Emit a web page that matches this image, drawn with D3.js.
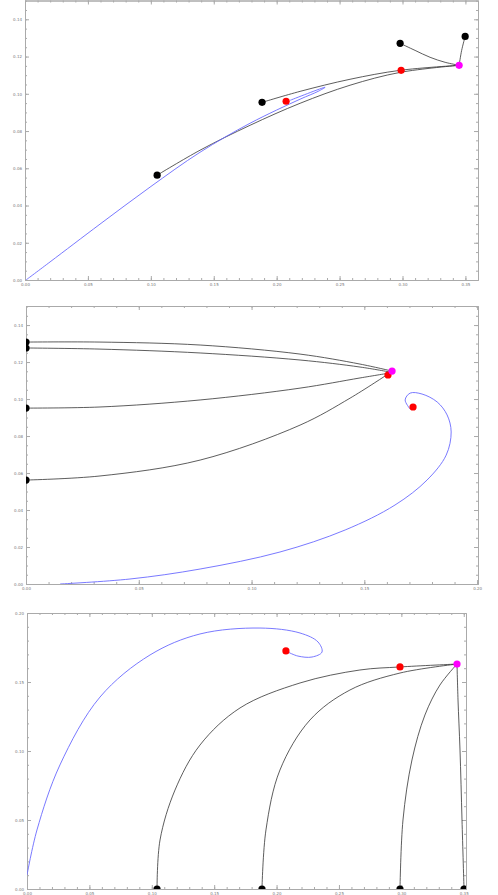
<!DOCTYPE html>
<html>
<head>
<meta charset="utf-8">
<script src="https://cdn.jsdelivr.net/npm/d3@7.9.0/dist/d3.min.js"></script>
<style>
  body { margin: 0; background: #fff; }
  svg { display: block; }
</style>
</head>
<body>
<svg id="chart"></svg>
<script>
// ---- panel 1 (x vs y) ----
const p1Black = [
  [[0.105, 0.0563], [0.1391, 0.0697], [0.1789, 0.0831], [0.2186, 0.0949], [0.2583, 0.1046], [0.2981, 0.1115], [0.345, 0.1153]],
  [[0.1884, 0.0954], [0.2186, 0.1013], [0.2583, 0.1078], [0.2981, 0.1126], [0.345, 0.1153]],
  [[0.2981, 0.1271], [0.3100, 0.1233], [0.3219, 0.1196], [0.3339, 0.1169], [0.345, 0.1153]],
  [[0.3498, 0.1308], [0.3470, 0.1233], [0.345, 0.1153]]
];
const p1Blue = [[0.2107, 0.0965], [0.2385, 0.1035], [0.2329, 0.1013], [0.2186, 0.0971], [0.1789, 0.0842], [0.1391, 0.0686],
  [0.0994, 0.0499], [0.0596, 0.0300], [0.0199, 0.0097], [0.0008, 0]];
const p1Start = [[0.105, 0.0563], [0.1884, 0.0954], [0.2981, 0.1271], [0.3498, 0.1308]];
const p1Red = [[0.2075, 0.096], [0.2989, 0.1126]];
const p1Fixed = [[0.345, 0.1153]];

// ---- panel 2 (z vs y) ----
const p2Black = [
  [[0, 0.1308], [0.0328, 0.1308], [0.0772, 0.1292], [0.1215, 0.1243], [0.1481, 0.1189], [0.1623, 0.1151]],
  [[0, 0.1276], [0.0328, 0.1270], [0.0772, 0.1249], [0.1215, 0.1211], [0.1481, 0.1173], [0.1614, 0.1146]],
  [[0, 0.0951], [0.0328, 0.0957], [0.0772, 0.0995], [0.1215, 0.1059], [0.1481, 0.1114], [0.1614, 0.1141]],
  [[0, 0.0562], [0.0328, 0.0584], [0.0772, 0.0670], [0.1215, 0.0859], [0.1437, 0.1005], [0.1605, 0.1135]]
];
const p2Blue = [[0.1703, 0.0946], [0.1681, 0.0995], [0.1703, 0.1032], [0.1756, 0.1027], [0.1823, 0.0984], [0.1867, 0.0914],
  [0.1885, 0.0822], [0.1863, 0.0697], [0.1778, 0.0562], [0.1636, 0.0427], [0.1415, 0.0292], [0.1126, 0.0173],
  [0.0772, 0.0081], [0.0461, 0.0027], [0.0151, 0]];
const p2Start = [[0, 0.1308], [0, 0.1276], [0, 0.0951], [0, 0.0562]];
const p2Red = [[0.1605, 0.1130], [0.1716, 0.0957]];
const p2Fixed = [[0.1623, 0.1151]];

// ---- panel 3 (x vs z) ----
const p3Black = [
  [[0.1042, 0], [0.1066, 0.0355], [0.1186, 0.0717], [0.1386, 0.1043], [0.1707, 0.1312], [0.2188, 0.1493], [0.2668, 0.1587], [0.2989, 0.1609], [0.3446, 0.1630]],
  [[0.1883, 0], [0.1915, 0.0428], [0.2027, 0.0862], [0.2268, 0.1225], [0.2588, 0.1442], [0.2989, 0.1565], [0.3446, 0.1630]],
  [[0.2989, 0], [0.3013, 0.05], [0.3085, 0.0935], [0.3189, 0.1261], [0.3309, 0.1478], [0.3446, 0.1630]],
  [[0.3502, 0], [0.3486, 0.05], [0.3470, 0.1007], [0.3454, 0.1370], [0.3446, 0.1630]]
];
const p3Blue = [[0.2091, 0.1717], [0.2171, 0.1688], [0.2284, 0.1681], [0.2364, 0.1717], [0.2332, 0.1790], [0.2188, 0.1855],
  [0.1867, 0.1891], [0.1386, 0.1848], [0.0986, 0.1696], [0.0585, 0.1391], [0.0264, 0.0899], [0.0080, 0.0428], [0, 0.0101]];
const p3Start = [[0.1042, 0], [0.1883, 0], [0.2989, 0], [0.3502, 0]];
const p3Red = [[0.2989, 0.1609], [0.2075, 0.1725]];
const p3Fixed = [[0.3446, 0.1630]];

const panels = [
  { left: 25, right: 478, top: 0.5, bottom: 280, xMax: 0.36, yMax: 0.1501,
    xMajor: 0.05, xMinor: 0.01, yMajor: 0.02, yMinor: 0.005,
    black: p1Black, blue: p1Blue, start: p1Start, red: p1Red, fixed: p1Fixed },
  { left: 26, right: 478, top: 306, bottom: 584, xMax: 0.2004, yMax: 0.1503,
    xMajor: 0.05, xMinor: 0.01, yMajor: 0.02, yMinor: 0.005,
    black: p2Black, blue: p2Blue, start: p2Start, red: p2Red, fixed: p2Fixed },
  { left: 27, right: 466, top: 613, bottom: 889, xMax: 0.3518, yMax: 0.2,
    xMajor: 0.05, xMinor: 0.01, yMajor: 0.05, yMinor: 0.01,
    black: p3Black, blue: p3Blue, start: p3Start, red: p3Red, fixed: p3Fixed }
];

const svg = d3.select("#chart").attr("width", 498).attr("height", 895);

function ticksFor(max, step) {
  const n = Math.floor(max / step + 1e-6);
  return d3.range(n + 1).map(i => +(i * step).toFixed(4));
}

panels.forEach((p, k) => {
  const x = d3.scaleLinear().domain([0, p.xMax]).range([p.left, p.right]);
  const y = d3.scaleLinear().domain([0, p.yMax]).range([p.bottom, p.top]);
  const g = svg.append("g");

  const clipId = "clip" + k;
  svg.append("clipPath").attr("id", clipId)
    .append("rect")
    .attr("x", p.left).attr("y", p.top)
    .attr("width", p.right - p.left).attr("height", p.bottom - p.top);

  const xMaj = ticksFor(p.xMax, p.xMajor);
  const xMin = ticksFor(p.xMax, p.xMinor);
  const yMaj = ticksFor(p.yMax, p.yMajor);
  const yMin = ticksFor(p.yMax, p.yMinor);
  const fmt = d3.format(".2f");

  const axes = [
    [d3.axisBottom(x).tickValues(xMin).tickSize(-2).tickFormat(""), `translate(0,${p.bottom})`],
    [d3.axisBottom(x).tickValues(xMaj).tickSize(-4).tickPadding(3).tickFormat(fmt), `translate(0,${p.bottom})`],
    [d3.axisTop(x).tickValues(xMin).tickSize(-2).tickFormat(""), `translate(0,${p.top})`],
    [d3.axisTop(x).tickValues(xMaj).tickSize(-4).tickFormat(""), `translate(0,${p.top})`],
    [d3.axisLeft(y).tickValues(yMin).tickSize(-2).tickFormat(""), `translate(${p.left},0)`],
    [d3.axisLeft(y).tickValues(yMaj).tickSize(-4).tickPadding(3).tickFormat(fmt), `translate(${p.left},0)`],
    [d3.axisRight(y).tickValues(yMin).tickSize(-2).tickFormat(""), `translate(${p.right},0)`],
    [d3.axisRight(y).tickValues(yMaj).tickSize(-4).tickFormat(""), `translate(${p.right},0)`]
  ];
  axes.forEach(([ax, tr]) => {
    const a = g.append("g").attr("transform", tr).call(ax.tickSizeOuter(0));
    a.select(".domain").attr("stroke", "#aaa");
    a.selectAll(".tick line").attr("stroke", "#aaa");
    a.selectAll("text")
      .style("font-family", "'DejaVu Sans'")
      .style("font-size", "4px")
      .attr("fill", "#777");
  });

  const line = d3.line().x(d => x(d[0])).y(d => y(d[1])).curve(d3.curveCatmullRom.alpha(0.5));
  const plot = g.append("g").attr("clip-path", `url(#${clipId})`);

  plot.selectAll("path.traj")
    .data(p.black)
    .enter()
    .append("path")
    .attr("class", "traj")
    .attr("d", line)
    .attr("fill", "none")
    .attr("stroke", "#333")
    .attr("stroke-width", 0.8);

  plot.append("path")
    .datum(p.blue)
    .attr("d", line)
    .attr("fill", "none")
    .attr("stroke", "#6a6aff")
    .attr("stroke-width", 0.9);

  const dots = [[p.start, "#000"], [p.red, "#ff0000"], [p.fixed, "#ff00ff"]];
  dots.forEach(([pts, col]) => {
    plot.selectAll(null)
      .data(pts)
      .enter()
      .append("circle")
      .attr("cx", d => x(d[0]))
      .attr("cy", d => y(d[1]))
      .attr("r", 3.6)
      .attr("fill", col);
  });
});
</script>
</body>
</html>
